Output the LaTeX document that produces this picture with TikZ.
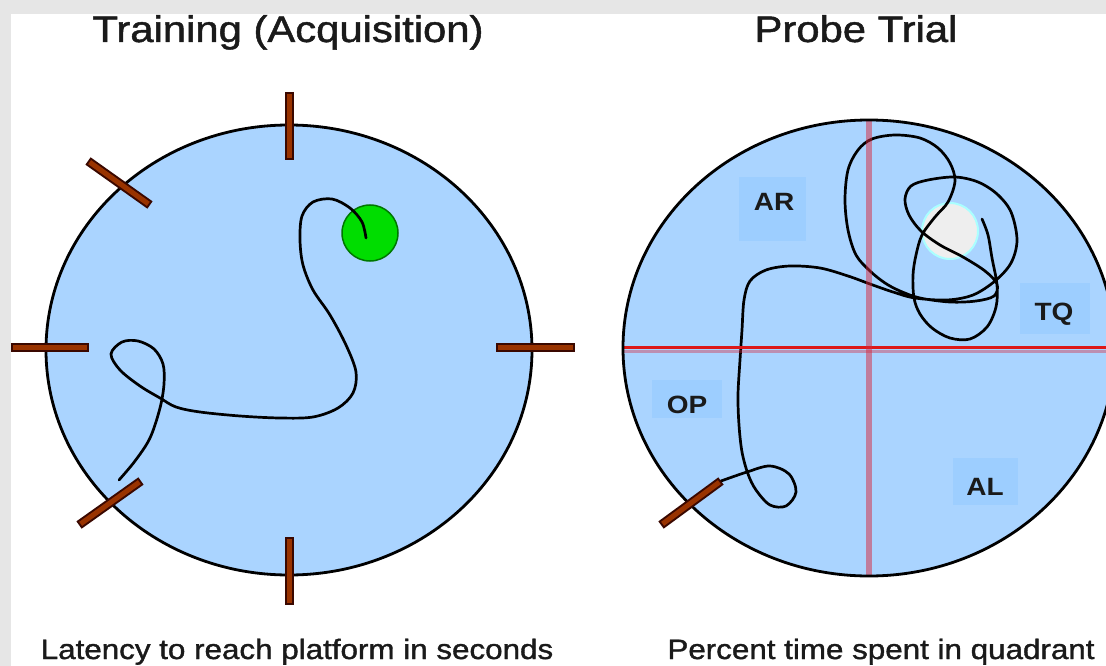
\documentclass[tikz,border=0pt]{standalone}
\usepackage{fontspec}
\setmainfont{Liberation Sans}
\newfontfamily\heavyfont[FakeBold=1.2]{Liberation Sans}
\definecolor{bggrey}{HTML}{E6E6E6}
\definecolor{pool}{HTML}{AAD4FF}
\definecolor{boxblue}{HTML}{9DCEFF}
\definecolor{stickbrown}{HTML}{993300}
\definecolor{stickdark}{HTML}{3A0800}
\definecolor{platgreen}{HTML}{00DD00}
\definecolor{platgreendark}{HTML}{007700}
\definecolor{platgrey}{HTML}{EEEEEE}
\definecolor{platedge}{HTML}{AAFFFF}
\definecolor{qred}{HTML}{DD1818}
\definecolor{qline}{HTML}{D7283C}
\definecolor{textgrey}{HTML}{1A1A1A}
\begin{document}
\begin{tikzpicture}[x=1pt,y=-1pt,
  stickout/.style={line width=9pt, stickdark},
  stickin/.style={line width=5pt, stickbrown, shorten <=2pt, shorten >=2pt},
  track/.style={line width=2.7pt, black, line join=round, line cap=round},
  rim/.style={line width=2.8pt, draw=black, fill=pool},
  title/.style={font=\heavyfont\fontsize{37}{40}\selectfont, text=textgrey, anchor=base, inner sep=0pt},
  caption/.style={font=\heavyfont\fontsize{28}{32}\selectfont, text=textgrey, anchor=base, inner sep=0pt},
  lbl/.style={font=\fontsize{25}{28}\selectfont\bfseries, text=textgrey, anchor=base, inner sep=0pt},
  qbox/.style={fill=boxblue, draw=none},
]
\useasboundingbox (0,0) rectangle (1106,666);
\clip (0,0) rectangle (1106,666);
\fill[bggrey] (0,0) rectangle (1106,666);
\fill[white] (11,14) rectangle (1106,666);

% titles and captions
\node[title] (t1) at (288,42) {\scalebox{1.13}[1]{Training (Acquisition)}};
\node[title] (t2) at (856,42) {\scalebox{1.13}[1]{Probe Trial}};
\node[caption] (c1) at (297,659) {\scalebox{1.12}[1]{Latency to reach platform in seconds}};
\node[caption] (c2) at (881,659) {\scalebox{1.12}[1]{Percent time spent in quadrant}};

% ---------- left pool ----------
\path[rim] (289,350) ellipse [x radius=243, y radius=225];
\draw[fill=platgreen, draw=platgreendark, line width=1.5pt] (370,233) circle [radius=28];
\draw[track] plot[smooth, tension=0.55] coordinates {
 (366,238) (362,222) (350,208) (332,199) (313,202) (302,216) (300,240) (303,265)
 (313,290) (330,315) (346,345) (356,372) (353,393) (338,408) (313,417) (280,418)
 (240,416) (200,412) (176,407) (160,398) (140,386) (120,370) (111,354) (122,342)
 (138,341) (154,349) (163,364) (164,384) (160,408) (150,438) (135,461) (119,480)};
% sticks
\draw[stickout] (289,92) -- (289,160);   \draw[stickin] (289,92) -- (289,160);
\draw[stickout] (289,537) -- (289,605);  \draw[stickin] (289,537) -- (289,605);
\draw[stickout] (11,347) -- (89,347);    \draw[stickin] (11,347) -- (89,347);
\draw[stickout] (496,347) -- (575,347);  \draw[stickin] (496,347) -- (575,347);
\draw[stickout] (88,161) -- (150,205);   \draw[stickin] (88,161) -- (150,205);
\draw[stickout] (79,525) -- (141,481);   \draw[stickin] (79,525) -- (141,481);

% ---------- right pool ----------
\path[fill=pool] (869,348) ellipse [x radius=246, y radius=228];
\fill[qbox] (739,177) rectangle (806,241);
\fill[qbox] (1020,283) rectangle (1090,334);
\fill[qbox] (652,380) rectangle (722,418);
\fill[qbox] (953,458) rectangle (1018,505);
\node[lbl] (ar) at (774,211) {\scalebox{1.12}[1]{AR}};
\node[lbl] (tq) at (1054,320) {\scalebox{1.12}[1]{TQ}};
\node[lbl] (op) at (687,413) {\scalebox{1.12}[1]{OP}};
\node[lbl] (al) at (985,495) {\scalebox{1.12}[1]{AL}};
\draw[fill=platgrey, draw=platedge, line width=2pt] (950,231) circle [radius=28];
\draw[track] plot[smooth, tension=0.55] coordinates {
 (721,481) (747,472) (770,466) (789,474) (796,492) (786,506) (770,505) (756,490)
 (748,474) (742,452) (739,425) (738,395) (740,360) (742,330) (744,300) (750,281)
 (766,270) (790,266) (820,268) (848,276) (870,284) (893,292) (915,298) (947,300)
 (973,295) (995,281) (1011,263) (1017,240) (1011,212) (997,194) (978,182) (955,177)
 (928,180) (911,186) (905,199) (909,215) (921,231) (940,245) (963,257) (985,271)
 (997,284) (994,296) (976,301) (950,302) (920,298) (900,291) (885,283) (870,271)
 (856,255) (848,230) (845,200) (848,170) (858,150) (872,139) (895,135) (920,138)
 (938,148) (950,163) (955,181) (948,202) (935,217) (922,235) (916,255) (913,275)
 (914,298) (920,314) (932,328) (950,338) (970,339) (987,327) (996,307) (997,285)
 (992,258) (988,235) (982,219)};
% quadrant lines
\draw[line width=3.5pt, qred] (622,347.5) -- (1106,347.5);
\draw[line width=3pt, qline, opacity=0.4] (622,351) -- (1106,351);
\draw[line width=6.5pt, qline, opacity=0.5] (869,120) -- (869,576);
\draw[line width=2.8pt] (869,348) ellipse [x radius=246, y radius=228];
\draw[stickout] (661,525) -- (721,481);  \draw[stickin] (661,525) -- (721,481);
\end{tikzpicture}
\end{document}
